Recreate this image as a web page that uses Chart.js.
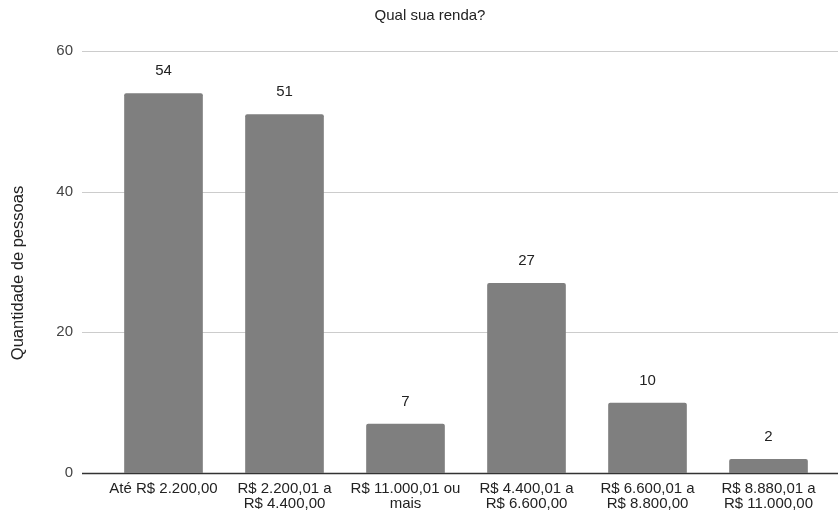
<!DOCTYPE html>
<html>
<head>
<meta charset="utf-8">
<script src="https://cdn.jsdelivr.net/npm/chart.js@4"></script>
<style>
  html, body { margin: 0; padding: 0; background: #fff; }
  #wrap { width: 838px; height: 513px; }
</style>
</head>
<body>
<div id="wrap"><canvas id="chart"></canvas></div>
<script>
// data
const categories = [
    "Até R$ 2.200,00",
    ["R$ 2.200,01 a", "R$ 4.400,00"],
    ["R$ 11.000,01 ou", "mais"],
    ["R$ 4.400,01 a", "R$ 6.600,00"],
    ["R$ 6.600,01 a", "R$ 8.800,00"],
    ["R$ 8.880,01 a", "R$ 11.000,00"]
];
const pessoas = [54, 51, 7, 27, 10, 2];
const yTicks = [0, 20, 40, 60];

const FONT = "'Liberation Sans', Arial, sans-serif";

// grid lines drawn across the full width, from the y scale ticks
const fullGrid = {
    id: 'fullGrid',
    beforeDatasetsDraw(chart) {
        const ctx = chart.ctx;
        const y = chart.scales.y;
        const left = chart.chartArea.left - 21;
        ctx.save();
        yTicks.forEach(v => {
            const py = Math.round(y.getPixelForValue(v)) + 0.5;
            ctx.beginPath();
            ctx.lineWidth = v === 0 ? 1.5 : 1;
            ctx.strokeStyle = v === 0 ? '#333333' : '#cccccc';
            ctx.moveTo(left, py);
            ctx.lineTo(chart.width, py);
            ctx.stroke();
        });
        ctx.restore();
    }
};

// value labels above bars, chart title and y axis title
const labelsPlugin = {
    id: 'labelsPlugin',
    afterDatasetsDraw(chart) {
        const ctx = chart.ctx;
        const meta = chart.getDatasetMeta(0);
        ctx.save();
        ctx.font = '15px ' + FONT;
        ctx.fillStyle = '#222222';
        ctx.textAlign = 'center';
        ctx.textBaseline = 'middle';
        meta.data.forEach((bar, i) => {
            ctx.fillText(pessoas[i], bar.x, bar.y - 22);
        });
        ctx.fillText('Qual sua renda?', 430, 16);
        // y title
        ctx.font = '16.5px ' + FONT;
        ctx.translate(18, 273);
        ctx.rotate(-Math.PI / 2);
        ctx.fillText('Quantidade de pessoas', 0, 0);
        ctx.restore();
    }
};

const ctx = document.getElementById('chart').getContext('2d');
const myChart = new Chart(ctx, {
    type: 'bar',
    data: {
        labels: categories,
        datasets: [{
            label: 'Quantidade de pessoas',
            data: pessoas,
            backgroundColor: '#7f7f7f',
            borderRadius: { topLeft: 2, topRight: 2 },
            borderSkipped: 'bottom',
            barPercentage: 0.65,
            categoryPercentage: 1.0
        }]
    },
    options: {
        responsive: true,
        maintainAspectRatio: false,
        animation: false,
        layout: { padding: { top: 51, right: 9, bottom: 0, left: 0 } },
        plugins: {
            legend: { display: false },
            title: { display: false },
            tooltip: { enabled: false }
        },
        scales: {
            x: {
                afterFit(scale) { scale.height = 40; },
                grid: { display: false, drawTicks: false },
                border: { display: false },
                ticks: {
                    color: '#222222',
                    font: { family: FONT, size: 15, lineHeight: 0.95 },
                    padding: 9,
                    maxRotation: 0,
                    autoSkip: false
                }
            },
            y: {
                min: 0,
                max: 60,
                afterFit(scale) { scale.width = 103; },
                afterBuildTicks(scale) { scale.ticks = yTicks.map(v => ({ value: v })); },
                grid: { display: false, drawTicks: false },
                border: { display: false },
                ticks: {
                    color: '#444444',
                    font: { family: FONT, size: 15 },
                    padding: 30
                },
                title: { display: false }
            }
        }
    },
    plugins: [fullGrid, labelsPlugin]
});
</script>
</body>
</html>
